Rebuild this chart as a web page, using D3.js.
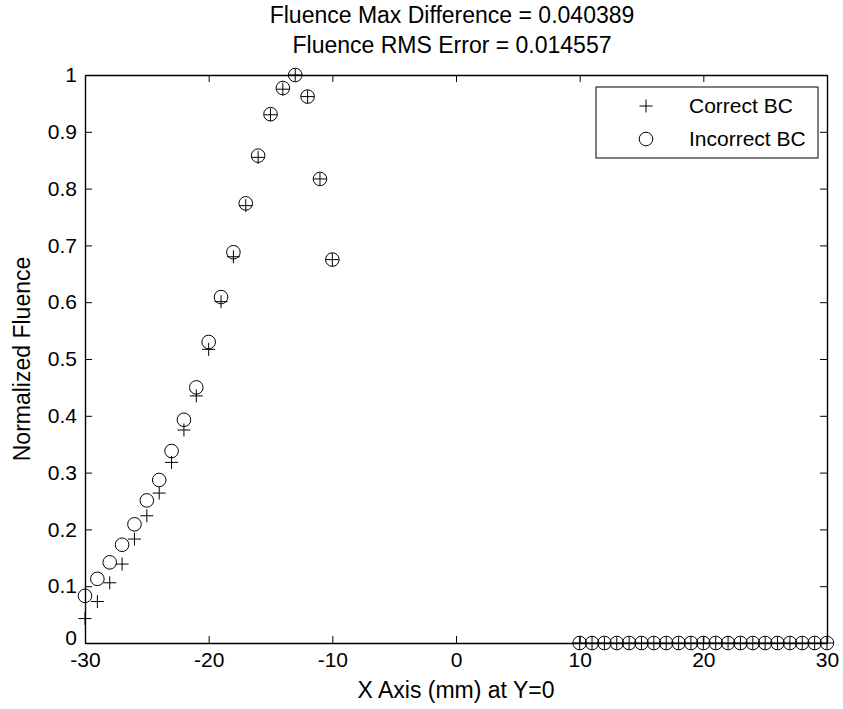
<!DOCTYPE html>
<html>
<head>
<meta charset="utf-8">
<script src="https://cdn.jsdelivr.net/npm/d3@7/dist/d3.min.js"></script>
<style>
  html, body { margin: 0; padding: 0; background: #fff; }
  svg { display: block; font-family: "Liberation Sans", Arial, Helvetica, sans-serif; }
</style>
</head>
<body>
<svg id="chart" width="843" height="709"></svg>
<script>
// Sample positions along X (mm) at Y=0
const xPositions = [-30, -29, -28, -27, -26, -25, -24, -23, -22, -21, -20,
                    -19, -18, -17, -16, -15, -14, -13, -12, -11, -10,
                    10, 11, 12, 13, 14, 15, 16, 17, 18, 19, 20,
                    21, 22, 23, 24, 25, 26, 27, 28, 29, 30];
// Normalized fluence, correct boundary condition
const correctBC = [0.043, 0.073, 0.106, 0.139, 0.183, 0.224, 0.264, 0.318, 0.375, 0.435, 0.517,
                   0.601, 0.680, 0.770, 0.855, 0.930, 0.975, 1.000, 0.962, 0.817, 0.675,
                   0, 0, 0, 0, 0, 0, 0, 0, 0, 0, 0,
                   0, 0, 0, 0, 0, 0, 0, 0, 0, 0];
// Normalized fluence, incorrect boundary condition
const incorrectBC = [0.083, 0.113, 0.142, 0.173, 0.209, 0.251, 0.287, 0.338, 0.393, 0.450, 0.530,
                     0.609, 0.688, 0.774, 0.858, 0.931, 0.977, 1.000, 0.962, 0.817, 0.675,
                     0, 0, 0, 0, 0, 0, 0, 0, 0, 0, 0,
                     0, 0, 0, 0, 0, 0, 0, 0, 0, 0];
const xTicks = [-30, -20, -10, 0, 10, 20, 30];
const yTicks = [0, 0.1, 0.2, 0.3, 0.4, 0.5, 0.6, 0.7, 0.8, 0.9, 1];
const titleLines = ["Fluence Max Difference = 0.040389", "Fluence RMS Error = 0.014557"];
const seriesNames = ["Correct BC", "Incorrect BC"];

const svg = d3.select("#chart");
const W = 843, H = 709;
const margin = { left: 85, right: W - 827, top: 75, bottom: H - 643 };
const x = d3.scaleLinear().domain([-30, 30]).range([margin.left, W - margin.right]);
const y = d3.scaleLinear().domain([0, 1]).range([H - margin.bottom, margin.top]);
const fs = 21;        // tick and legend text
const fsLabel = 23;   // title and axis labels
const tickLen = 7;

// axes with inward ticks on all four sides
const axB = d3.axisBottom(x).tickValues(xTicks).tickSizeInner(-tickLen).tickSizeOuter(0).tickPadding(9).tickFormat(d => String(d));
const axT = d3.axisTop(x).tickValues(xTicks).tickSizeInner(-tickLen).tickSizeOuter(0).tickFormat("");
const axL = d3.axisLeft(y).tickValues(yTicks).tickSizeInner(-tickLen).tickSizeOuter(0).tickPadding(8).tickFormat(d => d === 0 || d === 1 ? String(d) : d3.format(".1f")(d));
const axR = d3.axisRight(y).tickValues(yTicks).tickSizeInner(-tickLen).tickSizeOuter(0).tickFormat("");

function styleAxis(g) {
  g.selectAll("path.domain").attr("stroke", "#000").attr("stroke-width", 1.4);
  g.selectAll(".tick line").attr("stroke", "#000").attr("stroke-width", 1);
  g.selectAll(".tick text").attr("fill", "#000").style("font-size", fs + "px").style("font-family", "inherit");
}
svg.append("g").attr("transform", `translate(0,${y(0)})`).call(axB).call(styleAxis);
svg.append("g").attr("transform", `translate(0,${y(1)})`).call(axT).call(styleAxis);
const gL = svg.append("g").attr("transform", `translate(${x(-30)},0)`).call(axL).call(styleAxis);
svg.append("g").attr("transform", `translate(${x(30)},0)`).call(axR).call(styleAxis);
// lift the bottom "0" slightly so it clears the "-30" below it
gL.selectAll(".tick text").filter(d => d === 0).attr("dy", "0.05em");

// markers
const pts = xPositions.map((xv, i) => ({ x: xv, c: correctBC[i], ic: incorrectBC[i] }));
const plusR = 6.5, circR = 6.8;
const plus = svg.append("g").attr("stroke", "#000").attr("stroke-width", 1).attr("fill", "none");
pts.forEach(p => {
  const cx = x(p.x), cy = y(p.c);
  plus.append("path").attr("d", `M${cx - plusR},${cy}H${cx + plusR}M${cx},${cy - plusR}V${cy + plusR}`);
});
svg.append("g").selectAll("circle").data(pts).join("circle")
  .attr("cx", d => x(d.x)).attr("cy", d => y(d.ic)).attr("r", circR)
  .attr("fill", "none").attr("stroke", "#000").attr("stroke-width", 1);

// titles
titleLines.forEach((t, i) => {
  svg.append("text").attr("x", (x(-30) + x(30)) / 2 - 4).attr("y", 23 + i * 30)
    .attr("text-anchor", "middle").style("font-size", fsLabel + "px").attr("fill", "#000").text(t);
});

// axis labels
svg.append("text").attr("x", (x(-30) + x(30)) / 2).attr("y", 698)
  .attr("text-anchor", "middle").style("font-size", fsLabel + "px").text("X Axis (mm) at Y=0");
svg.append("text").attr("transform", `translate(30,${(y(0) + y(1)) / 2}) rotate(-90)`)
  .attr("text-anchor", "middle").style("font-size", fsLabel + "px").text("Normalized Fluence");

// legend
const lg = svg.append("g");
lg.append("rect").attr("x", 596).attr("y", 87).attr("width", 222).attr("height", 71)
  .attr("fill", "#fff").attr("stroke", "#000").attr("stroke-width", 1);
const lx = 646, ly = [106, 139];
lg.append("path").attr("d", `M${lx - plusR},${ly[0]}H${lx + plusR}M${lx},${ly[0] - plusR}V${ly[0] + plusR}`)
  .attr("stroke", "#000").attr("stroke-width", 1);
lg.append("circle").attr("cx", lx).attr("cy", ly[1]).attr("r", circR)
  .attr("fill", "none").attr("stroke", "#000").attr("stroke-width", 1);
seriesNames.forEach((n, i) => {
  lg.append("text").attr("x", 689).attr("y", ly[i]).attr("dy", "0.35em")
    .style("font-size", fs + "px").text(n);
});
</script>
</body>
</html>
